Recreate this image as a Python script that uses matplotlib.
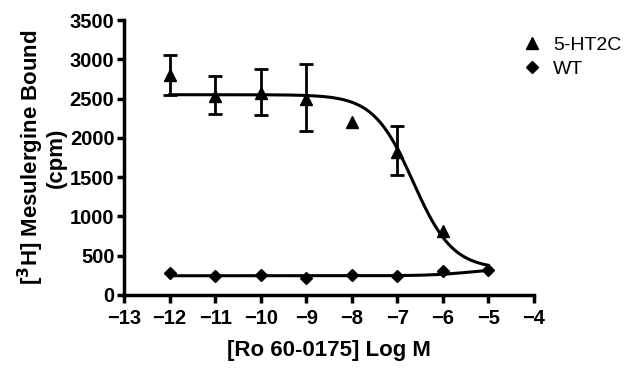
import numpy as np
import matplotlib
matplotlib.use("Agg")
import matplotlib.pyplot as plt

plt.rcParams["font.family"] = ["Liberation Sans", "DejaVu Sans"]

# data
log_conc = [-12, -11, -10, -9, -8, -7, -6, -5]
ht2c = [2800, 2530, 2570, 2500, 2200, 1820, 820, np.nan]
ht2c_err_lo = [260, 230, 280, 410, np.nan, 290, np.nan, np.nan]
ht2c_err_hi = [260, 260, 310, 440, np.nan, 330, np.nan, np.nan]
wt = [280, 240, 260, 220, 250, 240, 300, 320]

# sigmoid fit parameters (top, bottom, logIC50)
ht2c_fit = (2550, 330, -6.65)
wt_fit = (245, 340, -5.4)


def sigmoid(x, top, bottom, logic50):
    return bottom + (top - bottom) / (1 + 10 ** (x - logic50))


fig = plt.figure(figsize=(6.4, 3.72), dpi=100)
ax = fig.add_axes([0.194, 0.207, 0.640, 0.739])

xs = np.linspace(-12, -5, 300)
ax.plot(xs, sigmoid(xs, *ht2c_fit), color="black", lw=2.2, zorder=2)
ax.plot(xs, sigmoid(xs, *wt_fit), color="black", lw=2.2, zorder=2)

ax.errorbar(log_conc, ht2c, yerr=[ht2c_err_lo, ht2c_err_hi], fmt="^",
            color="black", ms=8, capsize=5, elinewidth=2, capthick=2,
            zorder=3)
ax.plot(log_conc, wt, "D", color="black", ms=6.5, zorder=3)

ax.set_xlim(-13, -4)
ax.set_ylim(0, 3500)
ax.set_xticks(range(-13, -3))
ax.set_yticks(range(0, 3501, 500))

for side in ["top", "right"]:
    ax.spines[side].set_visible(False)
for side in ["left", "bottom"]:
    ax.spines[side].set_linewidth(2.5)
ax.tick_params(width=2.5, length=5, labelsize=14.5, direction="out", pad=2)
ax.tick_params(axis="x", length=6, pad=4)
for lbl in ax.get_xticklabels() + ax.get_yticklabels():
    lbl.set_fontweight("bold")

ax.set_xlabel("[Ro 60-0175] Log M", fontsize=16, fontweight="bold", labelpad=9)
ax.set_ylabel("[$\\mathbf{^3}$H] Mesulergine Bound\n(cpm)", fontsize=16,
              fontweight="bold", linespacing=1.0, labelpad=2)

fig.legend(handles=[
    plt.Line2D([], [], ls="none", marker="^", color="black", ms=8),
    plt.Line2D([], [], ls="none", marker="D", color="black", ms=6.5)],
    labels=["5-HT2C", "WT"], loc="upper left", bbox_to_anchor=(0.785, 0.95),
    frameon=False, fontsize=14, handletextpad=0.5, handlelength=1.2,
    labelspacing=0.35)

fig.savefig("out.png", dpi=100)
